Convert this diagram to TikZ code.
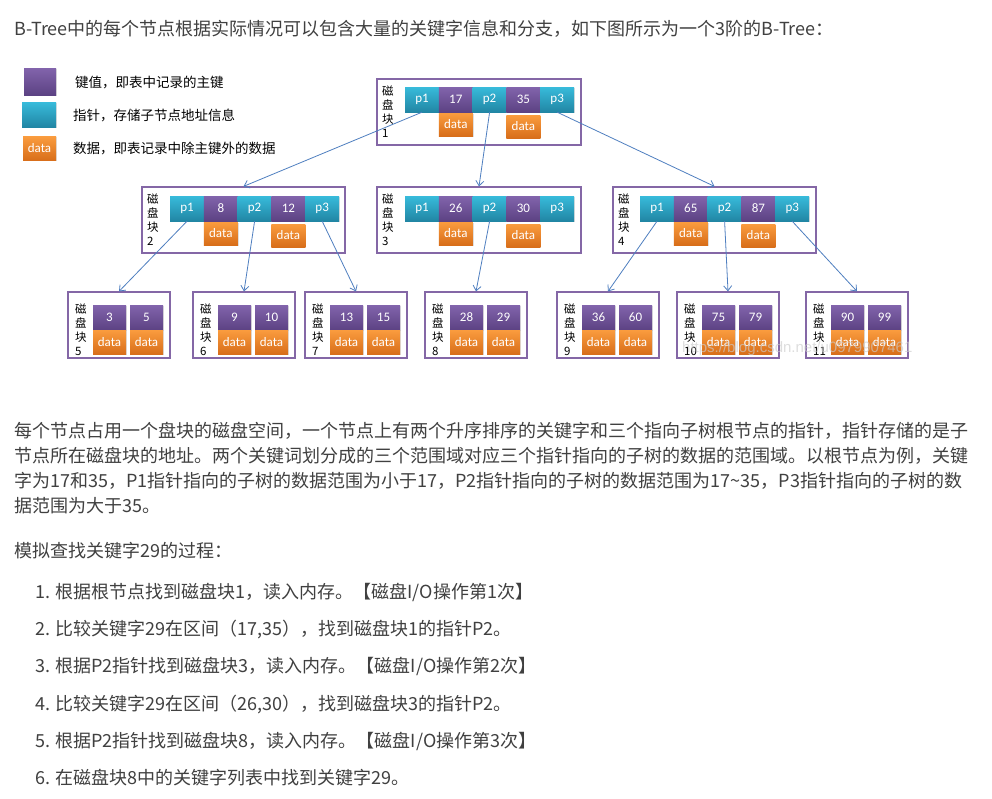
\documentclass[tikz,border=0pt]{standalone}
\usepackage{fontspec}
\setmainfont{Noto Sans CJK SC}
\newfontfamily\calfont{Carlito}
\newfontfamily\wmfont{Liberation Sans}
\usetikzlibrary{arrows.meta,shadows}
\XeTeXlinebreaklocale "zh"
\XeTeXlinebreakskip=0pt plus 1pt minus 0.3pt
\definecolor{keytop}{HTML}{8264AC}
\definecolor{keybot}{HTML}{5C4283}
\definecolor{ptrtop}{HTML}{38BBDB}
\definecolor{ptrbot}{HTML}{2186A4}
\definecolor{dattop}{HTML}{FA9C3E}
\definecolor{datbot}{HTML}{D86E1A}
\definecolor{boxc}{HTML}{8467A6}
\definecolor{arrc}{HTML}{4F7FC0}
\definecolor{txt}{HTML}{404040}
\tikzset{
  cell/.style={inner sep=0, minimum width=34pt, minimum height=25pt, text=white,
    font=\calfont\fontsize{13}{13}\selectfont,
    drop shadow={opacity=0.25, shadow xshift=0.8pt, shadow yshift=-0.8pt}},
  ptr/.style={cell, top color=ptrtop, bottom color=ptrbot},
  keyc/.style={cell, top color=keytop, bottom color=keybot},
  dat/.style={cell, minimum height=23pt, top color=dattop, bottom color=datbot},
  lkey/.style={keyc, minimum width=33pt},
  ldat/.style={dat, minimum width=33pt, minimum height=24pt},
  blk/.style={draw=boxc, line width=1.2pt, inner sep=0, minimum width=203pt, minimum height=66pt},
  leaf/.style={blk, minimum width=102pt},
  lbl/.style={anchor=west, align=left, font=\fontsize{11.5}{14}\selectfont, inner sep=0},
  link/.style={draw=arrc, line width=0.8pt, -{Straight Barb[length=5pt,width=8pt]}},
  body/.style={anchor=base west, inner sep=0, text=txt, font=\fontsize{18}{18}\selectfont},
  legtxt/.style={anchor=base west, inner sep=0, text=black, font=\fontsize{13.5}{13.5}\selectfont}
}
\begin{document}
\begin{tikzpicture}[x=1pt,y=-1pt]
\useasboundingbox (0,0) rectangle (992,798);
\fill[white] (0,0) rectangle (992,798);

% title
\node[body] (title) at (14,35) {B-Tree中的每个节点根据实际情况可以包含大量的关键字信息和分支，如下图所示为一个3阶的B-Tree：};

% legend
\node[keyc, minimum width=32pt, minimum height=27pt] (lgk) at (40,81.5) {};
\node[ptr, minimum height=25pt] (lgp) at (39,114.5) {};
\node[dat, minimum width=33pt, minimum height=24pt] (lgd) at (39.5,148.5) {data};
\node[legtxt] (lgkt) at (75,87) {键值，即表中记录的主键};
\node[legtxt] (lgpt) at (73,120) {指针，存储子节点地址信息};
\node[legtxt] (lgdt) at (73,153) {数据，即表记录中除主键外的数据};

% root block 1
\node[blk, minimum width=204pt] (b1) at (479,112) {};
\node[lbl] (l1) at (382,111.5) {磁\\盘\\块\\1};
\node[ptr] (b1p1) at (422,99.5) {p1};
\node[keyc] (b1k1) at (455.8,99.5) {17};
\node[ptr] (b1p2) at (489.6,99.5) {p2};
\node[keyc] (b1k2) at (523.4,99.5) {35};
\node[ptr] (b1p3) at (557.2,99.5) {p3};
\node[dat] (b1d1) at (455.8,124.5) {data};
\node[dat] (b1d2) at (523.4,126.5) {data};

% block 2
\node[blk] (b2) at (243.5,220) {};
\node[lbl] (l2) at (147,220) {磁\\盘\\块\\2};
\node[ptr] (b2p1) at (187,208.5) {p1};
\node[keyc] (b2k1) at (220.8,208.5) {8};
\node[ptr] (b2p2) at (254.6,208.5) {p2};
\node[keyc] (b2k2) at (288.4,208.5) {12};
\node[ptr] (b2p3) at (322.2,208.5) {p3};
\node[dat] (b2d1) at (220.8,233.5) {data};
\node[dat] (b2d2) at (288.4,235.5) {data};

% block 3
\node[blk, minimum width=204pt] (b3) at (479,220) {};
\node[lbl] (l3) at (382,220) {磁\\盘\\块\\3};
\node[ptr] (b3p1) at (422,208.5) {p1};
\node[keyc] (b3k1) at (455.8,208.5) {26};
\node[ptr] (b3p2) at (489.6,208.5) {p2};
\node[keyc] (b3k2) at (523.4,208.5) {30};
\node[ptr] (b3p3) at (557.2,208.5) {p3};
\node[dat] (b3d1) at (455.8,233.5) {data};
\node[dat] (b3d2) at (523.4,235.5) {data};

% block 4
\node[blk] (b4) at (714.5,220) {};
\node[lbl] (l4) at (618,220) {磁\\盘\\块\\4};
\node[ptr] (b4p1) at (657,208.5) {p1};
\node[keyc] (b4k1) at (690.8,208.5) {65};
\node[ptr] (b4p2) at (724.6,208.5) {p2};
\node[keyc] (b4k2) at (758.4,208.5) {87};
\node[ptr] (b4p3) at (792.2,208.5) {p3};
\node[dat] (b4d1) at (690.8,233.5) {data};
\node[dat] (b4d2) at (758.4,235.5) {data};

% leaves
\node[leaf] (b5) at (119,325) {};
\node[lbl] (l5) at (75,330) {磁\\盘\\块\\5};
\node[lkey] (b5k1) at (109.5,317.5) {3};
\node[lkey] (b5k2) at (146.5,317.5) {5};
\node[ldat] (b5d1) at (109.5,342) {data};
\node[ldat] (b5d2) at (146.5,342) {data};

\node[leaf] (b6) at (244,325) {};
\node[lbl] (l6) at (200,330) {磁\\盘\\块\\6};
\node[lkey] (b6k1) at (234.5,317.5) {9};
\node[lkey] (b6k2) at (271.5,317.5) {10};
\node[ldat] (b6d1) at (234.5,342) {data};
\node[ldat] (b6d2) at (271.5,342) {data};

\node[leaf] (b7) at (356,325) {};
\node[lbl] (l7) at (312,330) {磁\\盘\\块\\7};
\node[lkey] (b7k1) at (346.5,317.5) {13};
\node[lkey] (b7k2) at (383.5,317.5) {15};
\node[ldat] (b7d1) at (346.5,342) {data};
\node[ldat] (b7d2) at (383.5,342) {data};

\node[leaf] (b8) at (476,325) {};
\node[lbl] (l8) at (432,330) {磁\\盘\\块\\8};
\node[lkey] (b8k1) at (466.5,317.5) {28};
\node[lkey] (b8k2) at (503.5,317.5) {29};
\node[ldat] (b8d1) at (466.5,342) {data};
\node[ldat] (b8d2) at (503.5,342) {data};

\node[leaf] (b9) at (608,325) {};
\node[lbl] (l9) at (564,330) {磁\\盘\\块\\9};
\node[lkey] (b9k1) at (598.5,317.5) {36};
\node[lkey] (b9k2) at (635.5,317.5) {60};
\node[ldat] (b9d1) at (598.5,342) {data};
\node[ldat] (b9d2) at (635.5,342) {data};

\node[leaf] (b10) at (728,325) {};
\node[lbl] (l10) at (684,330) {磁\\盘\\块\\10};
\node[lkey] (b10k1) at (718.5,317.5) {75};
\node[lkey] (b10k2) at (755.5,317.5) {79};
\node[ldat] (b10d1) at (718.5,342) {data};
\node[ldat] (b10d2) at (755.5,342) {data};

\node[leaf] (b11) at (857,325) {};
\node[lbl] (l11) at (813,330) {磁\\盘\\块\\11};
\node[lkey] (b11k1) at (847.5,317.5) {90};
\node[lkey] (b11k2) at (884.5,317.5) {99};
\node[ldat] (b11d1) at (847.5,342) {data};
\node[ldat] (b11d2) at (884.5,342) {data};

% connectors
\draw[link] (b1p1.south) -- (b2.north);
\draw[link] (b1p2.south) -- (b3.north);
\draw[link] (b1p3.south) -- (b4.north);
\draw[link] (b2p1.south) -- (b5.north);
\draw[link] (b2p2.south) -- (b6.north);
\draw[link] (b2p3.south) -- (b7.north);
\draw[link] (b3p2.south) -- (b8.north);
\draw[link] (b4p1.south) -- (b9.north);
\draw[link] (b4p2.south) -- (b10.north);
\draw[link] (b4p3.south) -- (b11.north);

% watermark
\node[anchor=base west, inner sep=0, font=\wmfont\fontsize{15}{15}\selectfont, text=white!80!black, opacity=0.65] (wm) at (682,352) {https://blog.csdn.net/u0979907461};

% paragraph
\node[body] (p1) at (14,437) {\makebox[954pt][s]{每个节点占用一个盘块的磁盘空间，一个节点上有两个升序排序的关键字和三个指向子树根节点的指针，指针存储的是子}};
\node[body] (p2) at (14,462) {\makebox[954pt][s]{节点所在磁盘块的地址。两个关键词划分成的三个范围域对应三个指针指向的子树的数据的范围域。以根节点为例，关键}};
\node[body] (p3) at (14,487) {\makebox[956pt][s]{字为17和35，P1指针指向的子树的数据范围为小于17，P2指针指向的子树的数据范围为17\textasciitilde35，P3指针指向的子树的数}};
\node[body] (p4) at (14,512) {据范围为大于35。};

\node[body] (sim) at (14,557) {模拟查找关键字29的过程：};
\node[body] (s1) at (35,598) {1. 根据根节点找到磁盘块1，读入内存。【磁盘I/O操作第1次】};
\node[body] (s2) at (35,635) {2. 比较关键字29在区间（17,35），找到磁盘块1的指针P2。};
\node[body] (s3) at (35,672) {3. 根据P2指针找到磁盘块3，读入内存。【磁盘I/O操作第2次】};
\node[body] (s4) at (35,710) {4. 比较关键字29在区间（26,30），找到磁盘块3的指针P2。};
\node[body] (s5) at (35,747) {5. 根据P2指针找到磁盘块8，读入内存。【磁盘I/O操作第3次】};
\node[body] (s6) at (35,784) {6. 在磁盘块8中的关键字列表中找到关键字29。};
\end{tikzpicture}
\end{document}
